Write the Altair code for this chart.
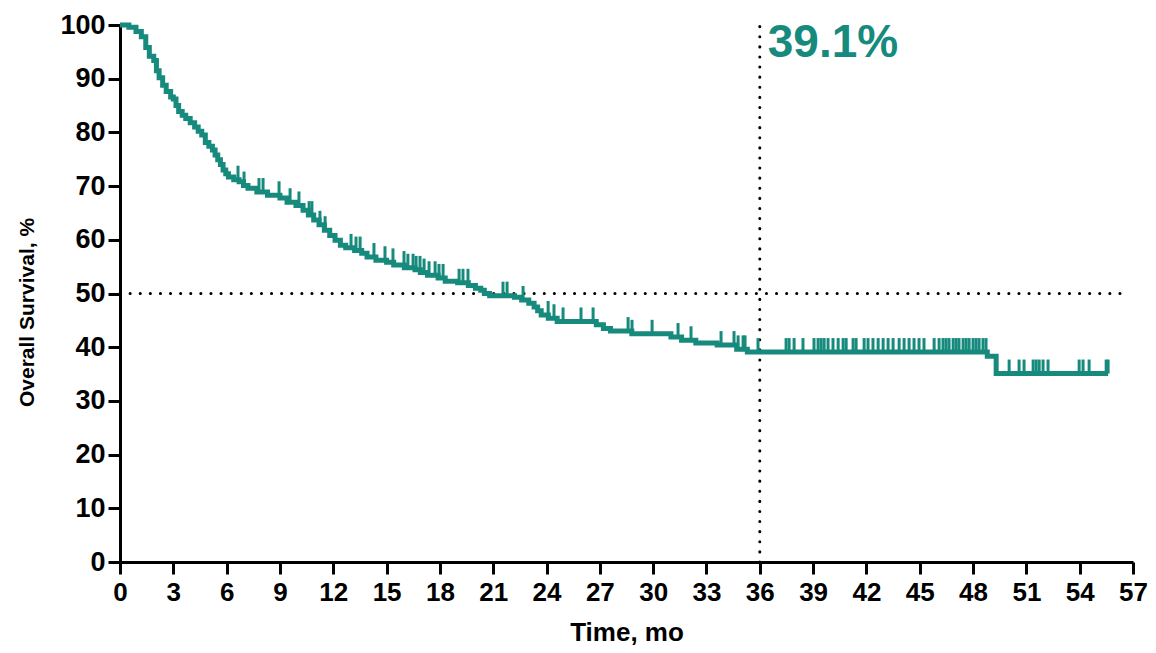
import altair as alt
import pandas as pd

# Kaplan-Meier step events (time in months, survival %)
event_t = [0, 0.5, 0.9, 1.2, 1.45, 1.65, 1.9, 2.05, 2.2, 2.4, 2.6, 2.85, 3.0, 3.15, 3.3, 3.5,
           3.7, 3.95, 4.2, 4.4, 4.6, 4.8, 5.0, 5.2, 5.35, 5.5, 5.65, 5.8, 5.95, 6.1, 6.4, 6.7,
           6.95, 7.2, 7.7, 8.3, 9.0, 9.4, 9.9, 10.3, 10.6, 10.9, 11.2, 11.5, 11.8, 12.1, 12.4,
           12.7, 13.2, 13.6, 13.9, 14.4, 15.0, 15.4, 16.0, 16.6, 16.9, 17.3, 17.9, 18.3, 19.0,
           19.6, 20.0, 20.3, 20.5, 20.8, 22.2, 22.6, 23.0, 23.3, 23.5, 23.7, 24.1, 24.6, 26.8,
           27.2, 27.6, 28.8, 31.0, 31.6, 32.4, 33.6, 34.7, 35.3, 48.8, 49.3, 55.6]
event_s = [100, 99.6, 98.8, 97.8, 95.8, 94.2, 93.4, 91.5, 90.2, 88.8, 87.6, 86.6, 86.2, 85.0,
           83.9, 83.2, 82.6, 81.8, 81.0, 80.2, 79.5, 78.1, 77.4, 76.7, 75.8, 74.9, 74.0, 73.0,
           72.3, 71.7, 71.2, 70.8, 70.1, 69.6, 68.9, 68.3, 67.8, 67.0, 66.4, 65.5, 64.6, 63.7,
           62.8, 61.8, 60.8, 59.9, 59.0, 58.5, 58.0, 57.5, 56.8, 56.2, 55.8, 55.3, 54.8, 54.4,
           53.9, 53.4, 52.9, 52.3, 52.0, 51.5, 51.0, 50.6, 50.0, 49.6, 49.3, 48.8, 48.2, 47.5,
           46.8, 46.0, 45.4, 44.8, 44.2, 43.5, 43.0, 42.5, 41.9, 41.3, 40.8, 40.4, 39.6, 39.1,
           38.3, 35.1, 35.1]

# censored observations (months)
censor_t = [6.64, 6.98, 7.82, 8.05, 8.95, 9.57, 10.07, 10.64, 10.8, 11.25, 11.54,
            13.0, 13.28, 13.51, 14.29, 14.91, 15.36, 15.98, 16.2, 16.49, 16.66, 16.88, 17.11,
            17.39, 17.73, 17.95, 18.18, 19.08, 19.3, 19.58,
            21.55, 21.78, 22.68, 24.09, 24.42, 24.93, 25.94, 26.62, 28.59, 28.81, 29.94,
            31.4, 32.13, 33.82, 34.55, 34.78, 35.06, 35.17, 35.9,
            37.48, 37.65, 37.93, 38.43, 39.05, 39.28, 39.45, 39.62, 39.84, 40.12, 40.41,
            40.69, 40.86, 41.25, 41.42, 41.87, 42.09, 42.37, 42.66, 42.94, 43.22, 43.5,
            43.84, 44.12, 44.4, 44.68, 44.96, 45.24, 45.81, 46.09, 46.31, 46.48, 46.65,
            46.88, 47.05, 47.21, 47.44, 47.61, 47.78, 48.0, 48.17, 48.34, 48.56, 48.73,
            50.03, 50.59, 50.87, 51.38, 51.55, 51.72, 51.94, 52.22, 53.97, 54.19, 54.53,
            55.49, 55.6]

x_ticks = list(range(0, 58, 3))
y_ticks = list(range(0, 101, 10))

median_level = 50
landmark_t = 36
landmark_label = "39.1%"

TEAL = "#168a7c"


def level_at(t):
    s = event_s[0]
    for et, es in zip(event_t, event_s):
        if et <= t:
            s = es
        else:
            break
    return s


km = pd.DataFrame({"t": event_t, "s": event_s})
cens = pd.DataFrame({"t": censor_t, "s": [level_at(t) for t in censor_t]})

xscale = alt.Scale(domain=[0, 57], nice=False, zero=False)
yscale = alt.Scale(domain=[0, 100], nice=False)

xaxis = alt.Axis(values=x_ticks, title="Time, mo", grid=False, domainColor="black",
                 domainWidth=3, tickColor="black", tickWidth=3, tickSize=12,
                 labelFont="Liberation Sans", labelFontWeight="bold", labelFontSize=26,
                 labelColor="black", labelPadding=5, labelFlush=False,
                 titleFont="Liberation Sans", titleFontWeight="bold", titleFontSize=26,
                 titleColor="black", titlePadding=14)
yaxis = alt.Axis(values=y_ticks, title="Overall Survival, %", grid=False, domainColor="black",
                 domainWidth=3, tickColor="black", tickWidth=3, tickSize=12,
                 labelFont="Liberation Sans", labelFontWeight="bold", labelFontSize=27,
                 labelColor="black", labelPadding=3,
                 titleFont="Liberation Sans", titleFontWeight="bold", titleFontSize=21,
                 titleColor="black", titlePadding=22, titleY=287)

base_x = alt.X("t:Q", scale=xscale, axis=xaxis)
base_y = alt.Y("s:Q", scale=yscale, axis=yaxis)

line = alt.Chart(km).mark_line(interpolate="step-after", color=TEAL, strokeWidth=5,
                               strokeJoin="miter").encode(x=base_x, y=base_y)

ticks = alt.Chart(cens).transform_calculate(top="datum.s + 2.6").mark_rule(
    color=TEAL, strokeWidth=3).encode(
    x=alt.X("t:Q", scale=xscale), y=alt.Y("s:Q", scale=yscale), y2="top:Q")

hline = alt.Chart(pd.DataFrame({"s": [median_level]})).mark_rule(
    color="black", strokeWidth=3, strokeDash=[0.1, 10], strokeCap="round").encode(
    y=alt.Y("s:Q", scale=yscale), x=alt.value(0), x2=alt.value(1008))

vline = alt.Chart(pd.DataFrame({"t": [landmark_t], "y0": [0], "y1": [101.5]})).mark_rule(
    color="black", strokeWidth=3, strokeDash=[0.1, 10], strokeCap="round").encode(
    x=alt.X("t:Q", scale=xscale), y=alt.Y("y0:Q", scale=yscale), y2="y1:Q")

label = alt.Chart(pd.DataFrame({"t": [landmark_t], "s": [94.0], "txt": [landmark_label]})).mark_text(
    align="left", baseline="alphabetic", dx=8, font="Liberation Sans", fontWeight="bold",
    fontSize=46, color=TEAL).encode(
    x=alt.X("t:Q", scale=xscale), y=alt.Y("s:Q", scale=yscale), text="txt:N")

chart = alt.layer(hline, vline, line, ticks, label).properties(
    width=1013, height=537,
    padding={"left": 112, "top": 17, "right": 15, "bottom": 83},
    autosize=alt.AutoSizeParams(type="none"),
    background="white",
).configure_view(stroke=None)

chart.save("out.html", embed_options={"renderer": "svg", "actions": False})
